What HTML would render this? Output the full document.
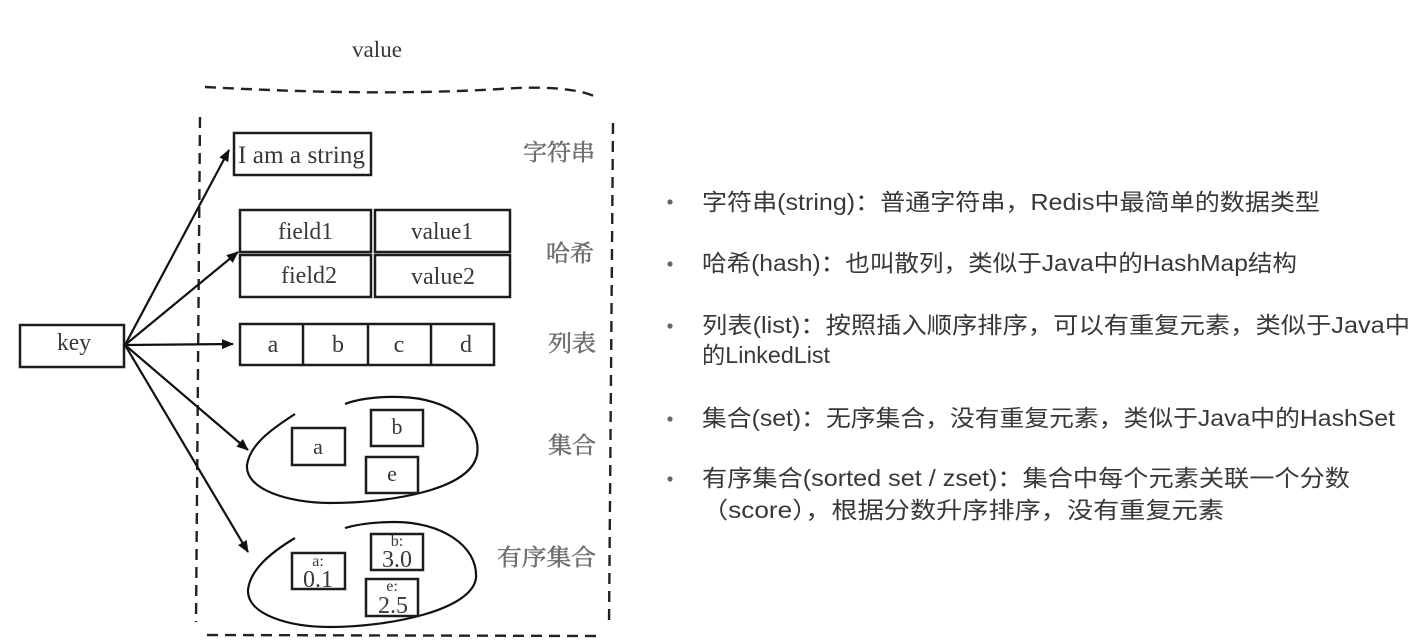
<!DOCTYPE html>
<html>
<head>
<meta charset="utf-8">
<style>
  html,body{margin:0;padding:0;background:#fff;}
  svg{display:block;}
  .serif{font-family:"Liberation Serif","Noto Serif CJK SC",serif;fill:#383838;}
  .lbl{font-family:"Noto Serif CJK SC","Noto Sans CJK SC",serif;fill:#6e6e6e;stroke:#6e6e6e;stroke-width:0.5;font-size:23px;}
  .rt{font-family:"Liberation Sans","Noto Sans CJK SC",sans-serif;fill:#383838;font-size:23px;}
  .box{fill:none;stroke:#1c1c1c;stroke-width:2.5;}
  .ln{fill:none;stroke:#111;stroke-width:2.2;}
  .dash{fill:none;stroke:#222;stroke-width:2.4;stroke-dasharray:11 7;}
</style>
</head>
<body>
<svg width="1425" height="640" viewBox="0 0 1425 640" xmlns="http://www.w3.org/2000/svg">
  <defs>
    <marker id="ah" viewBox="0 0 12 10" refX="11" refY="5" markerWidth="13" markerHeight="10" markerUnits="userSpaceOnUse" orient="auto">
      <path d="M0,0 L12,5 L0,10 Z" fill="#111"/>
    </marker>
  </defs>

  <!-- value title -->
  <text class="serif" x="352" y="57" font-size="23" textLength="50" lengthAdjust="spacingAndGlyphs">value</text>

  <!-- dashed frame -->
  <path class="dash" d="M205,87 C300,92 400,95 500,89 C540,86 575,88 594,96"/>
  <path class="dash" d="M200,117 L196,622"/>
  <path class="dash" d="M613,123 L609,627"/>
  <path class="dash" d="M207,635 L600,636"/>

  <!-- key -->
  <rect class="box" x="20" y="325" width="104" height="42"/>
  <text class="serif" x="57" y="350" font-size="24" textLength="34" lengthAdjust="spacingAndGlyphs">key</text>

  <!-- arrows -->
  <line class="ln" x1="125" y1="345" x2="229" y2="150" marker-end="url(#ah)"/>
  <line class="ln" x1="125" y1="345" x2="238" y2="252" marker-end="url(#ah)"/>
  <line class="ln" x1="125" y1="345" x2="233" y2="344" marker-end="url(#ah)"/>
  <line class="ln" x1="125" y1="345" x2="248" y2="450" marker-end="url(#ah)"/>
  <line class="ln" x1="125" y1="345" x2="248" y2="552" marker-end="url(#ah)"/>

  <!-- string -->
  <rect class="box" x="234" y="133" width="137" height="42"/>
  <text class="serif" x="238" y="163" font-size="25" textLength="127" lengthAdjust="spacingAndGlyphs">I am a string</text>
  <text class="lbl" x="523" y="160" textLength="72" lengthAdjust="spacingAndGlyphs">字符串</text>

  <!-- hash -->
  <rect class="box" x="240" y="210" width="131" height="42"/>
  <rect class="box" x="375" y="210" width="135" height="42"/>
  <rect class="box" x="240" y="255" width="131" height="42"/>
  <rect class="box" x="375" y="255" width="135" height="42"/>
  <text class="serif" x="278" y="239" font-size="24" textLength="55" lengthAdjust="spacingAndGlyphs">field1</text>
  <text class="serif" x="411" y="239" font-size="24" textLength="62" lengthAdjust="spacingAndGlyphs">value1</text>
  <text class="serif" x="281" y="283" font-size="24" textLength="56" lengthAdjust="spacingAndGlyphs">field2</text>
  <text class="serif" x="411" y="284" font-size="24" textLength="64" lengthAdjust="spacingAndGlyphs">value2</text>
  <text class="lbl" x="546" y="261" textLength="48" lengthAdjust="spacingAndGlyphs">哈希</text>

  <!-- list -->
  <rect class="box" x="240" y="324" width="254" height="41"/>
  <line class="box" x1="303" y1="324" x2="303" y2="365"/>
  <line class="box" x1="368" y1="324" x2="368" y2="365"/>
  <line class="box" x1="431" y1="324" x2="431" y2="365"/>
  <text class="serif" x="273" y="352" font-size="24" text-anchor="middle">a</text>
  <text class="serif" x="338" y="352" font-size="24" text-anchor="middle">b</text>
  <text class="serif" x="399" y="352" font-size="24" text-anchor="middle">c</text>
  <text class="serif" x="466" y="352" font-size="24" text-anchor="middle">d</text>
  <text class="lbl" x="548" y="351" textLength="48" lengthAdjust="spacingAndGlyphs">列表</text>

  <!-- set -->
  <path class="ln" d="M295,414 C270,430 250,445 247,465 C245,490 290,503 330,503 C390,503 470,490 477,455 C482,425 450,398 400,397 C375,396 355,400 345,404"/>
  <rect class="box" x="292" y="428" width="53" height="37"/>
  <rect class="box" x="371" y="410" width="52" height="36"/>
  <rect class="box" x="366" y="457" width="52" height="36"/>
  <text class="serif" x="318" y="454" font-size="22" text-anchor="middle">a</text>
  <text class="serif" x="397" y="434" font-size="22" text-anchor="middle">b</text>
  <text class="serif" x="392" y="481" font-size="22" text-anchor="middle">e</text>
  <text class="lbl" x="548" y="453" textLength="48" lengthAdjust="spacingAndGlyphs">集合</text>

  <!-- zset -->
  <path class="ln" d="M295,538 C270,553 250,570 248,590 C247,615 290,627 330,627 C390,627 472,610 476,578 C478,545 440,522 395,522 C370,522 355,525 345,528"/>
  <rect class="box" x="292" y="553" width="53" height="36"/>
  <rect class="box" x="371" y="534" width="52" height="36"/>
  <rect class="box" x="366" y="579" width="52" height="37"/>
  <text class="serif" x="318" y="566" font-size="16" text-anchor="middle">a:</text>
  <text class="serif" x="318" y="587" font-size="24" text-anchor="middle">0.1</text>
  <text class="serif" x="397" y="546" font-size="16" text-anchor="middle" fill="#555">b:</text>
  <text class="serif" x="397" y="567" font-size="24" text-anchor="middle">3.0</text>
  <text class="serif" x="392" y="591" font-size="16" text-anchor="middle">e:</text>
  <text class="serif" x="393" y="613" font-size="24" text-anchor="middle">2.5</text>
  <text class="lbl" x="497" y="565" textLength="99" lengthAdjust="spacingAndGlyphs">有序集合</text>

  <!-- right side bullet list -->
  <circle cx="670" cy="202" r="2.6" fill="#666"/>
  <circle cx="670" cy="264" r="2.6" fill="#666"/>
  <circle cx="670" cy="326" r="2.6" fill="#666"/>
  <circle cx="670" cy="419" r="2.6" fill="#666"/>
  <circle cx="670" cy="479" r="2.6" fill="#666"/>

  <text class="rt" x="702" y="210" textLength="618" lengthAdjust="spacingAndGlyphs">字符串(string)：普通字符串，Redis中最简单的数据类型</text>
  <text class="rt" x="702" y="271" textLength="595" lengthAdjust="spacingAndGlyphs">哈希(hash)：也叫散列，类似于Java中的HashMap结构</text>
  <text class="rt" x="702" y="333" textLength="708" lengthAdjust="spacingAndGlyphs">列表(list)：按照插入顺序排序，可以有重复元素，类似于Java中</text>
  <text class="rt" x="702" y="363" textLength="128" lengthAdjust="spacingAndGlyphs">的LinkedList</text>
  <text class="rt" x="702" y="426" textLength="693" lengthAdjust="spacingAndGlyphs">集合(set)：无序集合，没有重复元素，类似于Java中的HashSet</text>
  <text class="rt" x="702" y="486" textLength="648" lengthAdjust="spacingAndGlyphs">有序集合(sorted set / zset)：集合中每个元素关联一个分数</text>
  <text class="rt" x="702" y="518" textLength="522" lengthAdjust="spacingAndGlyphs">（score），根据分数升序排序，没有重复元素</text>
</svg>
</body>
</html>
